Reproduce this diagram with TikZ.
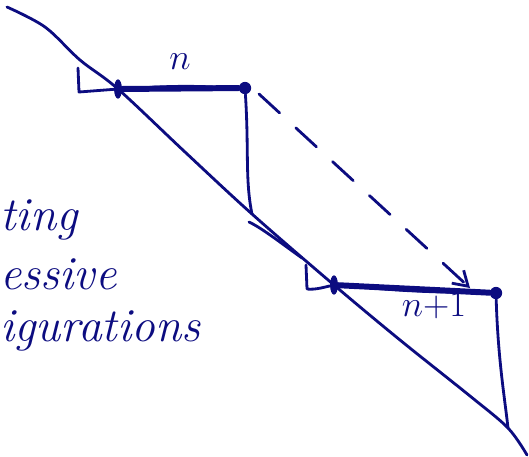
\documentclass[tikz,border=0pt]{standalone}
\usepackage{tikz}
\usetikzlibrary{arrows.meta,calc}
\definecolor{pen}{RGB}{12,12,128}
\tikzset{
  ink/.style={draw=pen,line width=1.6pt,line cap=round,line join=round},
  config/.style={draw=pen,line width=3.4pt,line cap=round},
  startbar/.style={ellipse,fill=pen,inner sep=0pt,minimum width=4.5pt,minimum height=11pt},
  enddot/.style={circle,fill=pen,inner sep=0pt,minimum size=7pt},
  hand/.style={text=pen,font=\fontsize{27}{30}\selectfont\itshape,anchor=base west,inner sep=0pt},
  lbl/.style={text=pen,font=\fontsize{20}{24}\selectfont,inner sep=0pt},
}
\usetikzlibrary{shapes.geometric}
\begin{document}
\begin{tikzpicture}[x=0.2mm,y=-0.2mm]
\useasboundingbox (0,0) rectangle (529,456);

% first configuration
\node[startbar] (s1) at (118,89) {};
\node[enddot] (e1) at (245,88) {};
\coordinate (l1) at (78,68);
\coordinate (f1) at (252,214);
% second configuration
\node[startbar] (s2) at (334,285) {};
\node[enddot] (e2) at (496,293) {};
\coordinate (l2) at (306,265);
\coordinate (f2) at (508,428);
% dashed step
\coordinate (d1) at (259,94);
\coordinate (d2) at (470,288);

% the diagonal
\draw[ink] plot[smooth,tension=0.55] coordinates
  {(7,7) (45,27) (80,60) (s1.center) (185,152) (f1) (s2.center) (400,340) (470,396) (f2) (527,455)};
\draw[ink] (249,222) .. controls (262,228) and (285,246) .. (302,258);

\draw[config] (s1) -- (e1);
\draw[ink,line width=0.9pt] (s1) to[bend left=4] (e1);
\draw[config] (s2) -- (e2);
\draw[ink,line width=0.9pt] (s2) to[bend right=3] (e2);

\draw[ink] (l1) -- (79,92) -- (s1);
\draw[ink] (l2) -- (307,289) .. controls (315,290) and (325,287) .. (s2);

\draw[ink] (e1) .. controls (249,150) and (245,180) .. (f1);
\draw[ink] (e2) .. controls (498,360) and (505,400) .. (f2);

\draw[ink,dash pattern=on 5.6mm off 4.4mm,-{Straight Barb[length=8pt,width=10pt]}] (d1) -- (d2);

\node[lbl] (n1) at (180,62) {$n$};
\node[lbl] (n2) at (434,306) {$n{+}1$};

\node[hand] (w1) at (0,230) {ting};
\node[hand] (w2) at (0,289) {essive};
\node[hand] (w3) at (0,341) {igurations};
\end{tikzpicture}
\end{document}
